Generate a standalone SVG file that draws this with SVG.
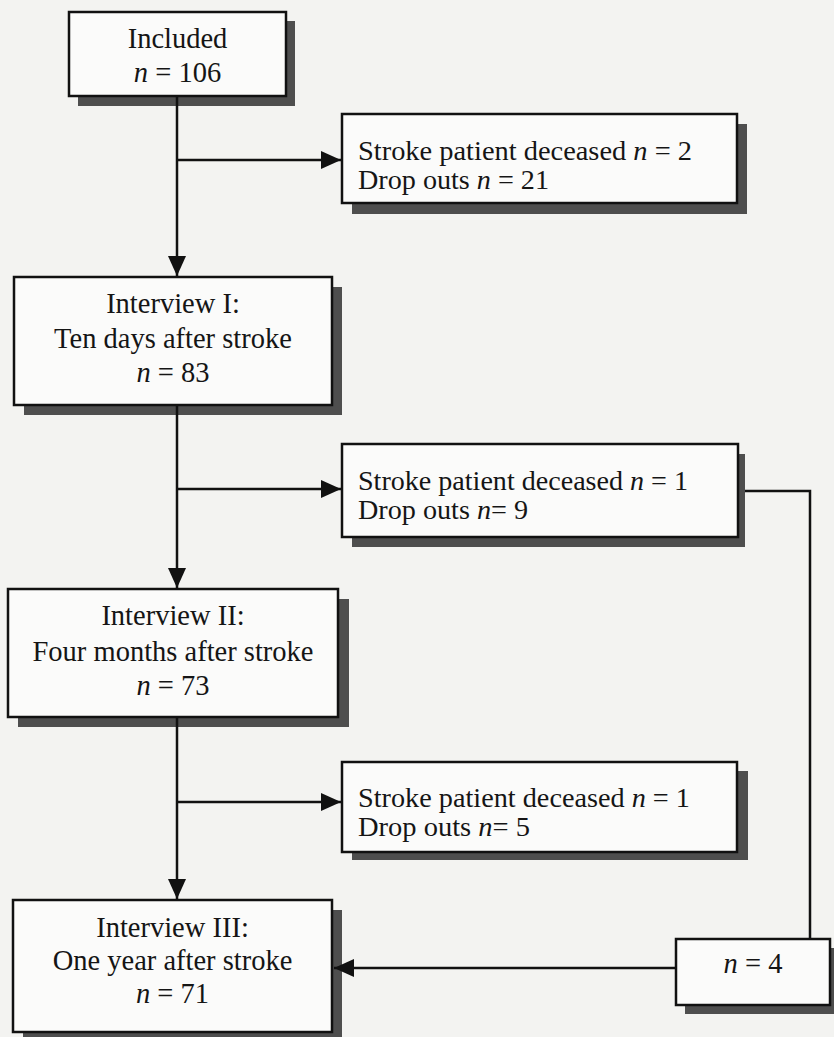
<svg xmlns="http://www.w3.org/2000/svg" width="834" height="1037" viewBox="0 0 834 1037">
<style>
.bg{fill:#f3f3f1}
.box{fill:#fbfbfa;stroke:#111;stroke-width:2.5}
.sh{fill:#4e4e4e}
.t{font-family:"Liberation Serif","Times New Roman",serif;font-size:28.5px;fill:#151515}
.s{font-size:26.5px}
.c{text-anchor:middle}
.i{font-style:italic}
.ln{fill:none;stroke:#111;stroke-width:2.5}
</style>
<defs>
<marker id="ah" viewBox="0 0 20 18" refX="20" refY="9" markerWidth="20" markerHeight="18" markerUnits="userSpaceOnUse" orient="auto">
<path d="M0,0 L20,9 L0,18 Z" fill="#111"/>
</marker>
</defs>
<rect class="bg" x="0" y="0" width="834" height="1037"/>

<g id="included">
<rect class="sh" x="78" y="21" width="217" height="85"/>
<rect class="box" x="69" y="12" width="217" height="84"/>
<text class="t c" x="177.5" y="48">Included</text>
<text class="t c" x="177.5" y="82"><tspan class="i">n</tspan> = 106</text>
</g>

<g id="excl1">
<rect class="sh" x="352" y="124" width="395" height="90"/>
<rect class="box" x="342" y="114" width="395" height="89"/>
<text class="t s" x="358" y="160" textLength="334" lengthAdjust="spacingAndGlyphs">Stroke patient deceased <tspan class="i">n</tspan> = 2</text>
<text class="t s" x="358" y="189" textLength="191" lengthAdjust="spacingAndGlyphs">Drop outs <tspan class="i">n</tspan> = 21</text>
</g>

<g id="interview1">
<rect class="sh" x="24" y="287" width="318" height="128"/>
<rect class="box" x="14" y="277" width="318" height="128"/>
<text class="t c" x="173" y="313">Interview I:</text>
<text class="t c" x="173" y="348">Ten days after stroke</text>
<text class="t c" x="173" y="382"><tspan class="i">n</tspan> = 83</text>
</g>

<g id="excl2">
<rect class="sh" x="352" y="454" width="393" height="93"/>
<rect class="box" x="342" y="444" width="396" height="93"/>
<text class="t s" x="358" y="490" textLength="330" lengthAdjust="spacingAndGlyphs">Stroke patient deceased <tspan class="i">n</tspan> = 1</text>
<text class="t s" x="358" y="519" textLength="170" lengthAdjust="spacingAndGlyphs">Drop outs <tspan class="i">n</tspan>= 9</text>
</g>

<g id="interview2">
<rect class="sh" x="18" y="599" width="331" height="128"/>
<rect class="box" x="8" y="589" width="330" height="128"/>
<text class="t c" x="173" y="625">Interview II:</text>
<text class="t c" x="173" y="661">Four months after stroke</text>
<text class="t c" x="173" y="695"><tspan class="i">n</tspan> = 73</text>
</g>

<g id="excl3">
<rect class="sh" x="352" y="771" width="396" height="89"/>
<rect class="box" x="342" y="762" width="395" height="90"/>
<text class="t s" x="358" y="807" textLength="332" lengthAdjust="spacingAndGlyphs">Stroke patient deceased <tspan class="i">n</tspan> = 1</text>
<text class="t s" x="358" y="836" textLength="172" lengthAdjust="spacingAndGlyphs">Drop outs <tspan class="i">n</tspan>= 5</text>
</g>

<g id="interview3">
<rect class="sh" x="23" y="910" width="319" height="130"/>
<rect class="box" x="13" y="900" width="319" height="132"/>
<text class="t c" x="172.5" y="937">Interview III:</text>
<text class="t c" x="172.5" y="970">One year after stroke</text>
<text class="t c" x="172.5" y="1003"><tspan class="i">n</tspan> = 71</text>
</g>

<g id="n4">
<rect class="sh" x="685" y="948" width="154" height="66"/>
<rect class="box" x="676" y="939" width="154" height="66"/>
<text class="t c" x="753" y="973"><tspan class="i">n</tspan> = 4</text>
</g>

<g id="connectors">
<line class="ln" x1="177" y1="97" x2="177" y2="276" marker-end="url(#ah)"/>
<line class="ln" x1="177" y1="160" x2="341" y2="160" marker-end="url(#ah)"/>
<line class="ln" x1="177" y1="406" x2="177" y2="588" marker-end="url(#ah)"/>
<line class="ln" x1="177" y1="489" x2="341" y2="489" marker-end="url(#ah)"/>
<line class="ln" x1="177" y1="718" x2="177" y2="899" marker-end="url(#ah)"/>
<line class="ln" x1="177" y1="802" x2="341" y2="802" marker-end="url(#ah)"/>
<polyline class="ln" points="745,491 810,491 810,939"/>
<line class="ln" x1="676" y1="968" x2="334" y2="968" marker-end="url(#ah)"/>
</g>
</svg>
